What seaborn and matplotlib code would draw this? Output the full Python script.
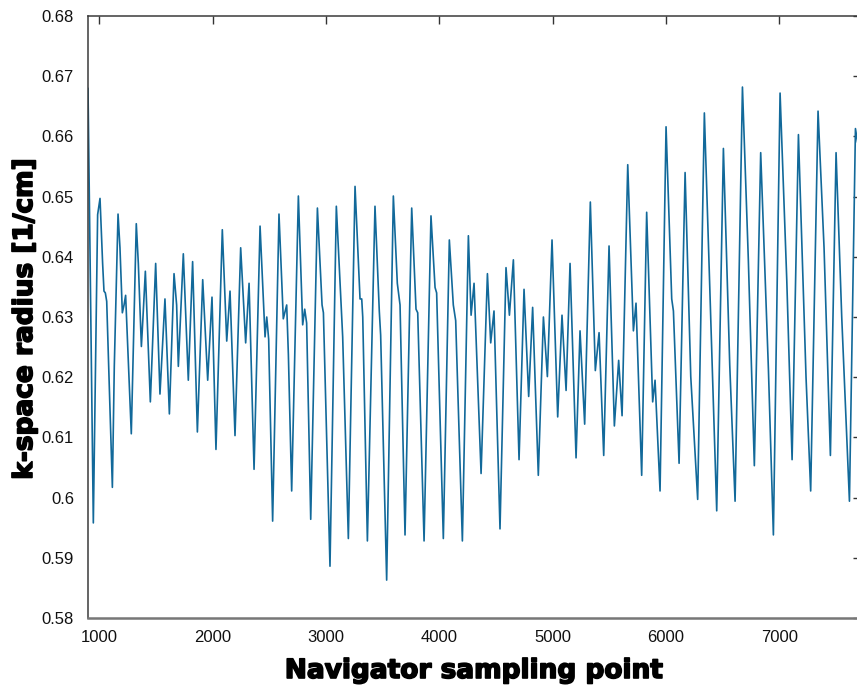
import matplotlib
matplotlib.use("Agg")
import matplotlib.pyplot as plt
import matplotlib.patheffects as pe
from matplotlib.ticker import FuncFormatter
import seaborn as sns
import pandas as pd

# Navigator samples: turning points and shoulders of the k-space radius trace
sample = [
    900, 947, 985, 1006, 1029, 1041, 1053, 1065, 1115, 1132, 1165, 1182, 1203, 1218, 1232,
    1282, 1326, 1344, 1371, 1388, 1406, 1450, 1497, 1535, 1579, 1618, 1659, 1682, 1697,
    1741, 1785, 1823, 1865, 1912, 1956, 1994, 2029, 2085, 2124, 2153, 2197, 2247, 2291,
    2321, 2365, 2418, 2462, 2477, 2494, 2529, 2585, 2623, 2653, 2668, 2697, 2756, 2794,
    2812, 2829, 2865, 2924, 2965, 2977, 3035, 3091, 3147, 3197, 3256, 3300, 3315, 3324,
    3365, 3432, 3470, 3482, 3535, 3594, 3629, 3653, 3697, 3756, 3794, 3809, 3865, 3926,
    3962, 3976, 4035, 4088, 4123, 4144, 4203, 4256, 4280, 4306, 4368, 4424, 4453, 4482,
    4535, 4588, 4618, 4653, 4703, 4747, 4788, 4823, 4873, 4918, 4953, 4994, 5044, 5082,
    5118, 5153, 5206, 5241, 5282, 5332, 5376, 5409, 5450, 5497, 5544, 5582, 5612, 5662,
    5712, 5735, 5785, 5829, 5882, 5903, 5947, 6000, 6050, 6065, 6115, 6168, 6218, 6279,
    6338, 6388, 6447, 6506, 6562, 6609, 6674, 6726, 6779, 6835, 6903, 6947, 7006, 7065,
    7112, 7168, 7235, 7276, 7341, 7394, 7450, 7500, 7550, 7618, 7671, 7690,
]
radius = [
    0.6680, 0.5958, 0.6470, 0.6497, 0.6389, 0.6343, 0.6340, 0.6326, 0.6017, 0.6218, 0.6471,
    0.6415, 0.6307, 0.6320, 0.6336, 0.6106, 0.6455, 0.6389, 0.6251, 0.6310, 0.6376, 0.6159,
    0.6389, 0.6172, 0.6330, 0.6139, 0.6372, 0.6320, 0.6218, 0.6405, 0.6195, 0.6392, 0.6109,
    0.6362, 0.6195, 0.6333, 0.6080, 0.6445, 0.6260, 0.6343, 0.6103, 0.6415, 0.6257, 0.6356,
    0.6047, 0.6451, 0.6267, 0.6300, 0.6263, 0.5961, 0.6471, 0.6297, 0.6320, 0.6237, 0.6011,
    0.6501, 0.6287, 0.6313, 0.6290, 0.5964, 0.6481, 0.6320, 0.6307, 0.5886, 0.6484, 0.6267,
    0.5932, 0.6517, 0.6330, 0.6330, 0.6300, 0.5928, 0.6484, 0.6310, 0.6270, 0.5863, 0.6501,
    0.6356, 0.6320, 0.5938, 0.6481, 0.6313, 0.6307, 0.5928, 0.6468, 0.6349, 0.6340, 0.5932,
    0.6428, 0.6320, 0.6294, 0.5928, 0.6435, 0.6303, 0.6356, 0.6040, 0.6372, 0.6257, 0.6310,
    0.5948, 0.6382, 0.6303, 0.6395, 0.6063, 0.6346, 0.6168, 0.6316, 0.6037, 0.6300, 0.6201,
    0.6428, 0.6134, 0.6303, 0.6178, 0.6389, 0.6066, 0.6277, 0.6122, 0.6491, 0.6211, 0.6274,
    0.6070, 0.6418, 0.6119, 0.6228, 0.6136, 0.6553, 0.6277, 0.6323, 0.6037, 0.6474, 0.6159,
    0.6195, 0.6011, 0.6616, 0.6330, 0.6310, 0.6057, 0.6540, 0.6201, 0.5997, 0.6639, 0.6336,
    0.5978, 0.6580, 0.6220, 0.5994, 0.6682, 0.6395, 0.6053, 0.6573, 0.6214, 0.5938, 0.6672,
    0.6362, 0.6063, 0.6603, 0.6200, 0.6011, 0.6642, 0.6415, 0.6070, 0.6573, 0.6300, 0.5994,
    0.6613, 0.6590,
]
x_ticks = [1000, 2000, 3000, 4000, 5000, 6000, 7000]
y_ticks = [0.58, 0.59, 0.60, 0.61, 0.62, 0.63, 0.64, 0.65, 0.66, 0.67, 0.68]

df = pd.DataFrame({"sample": sample, "radius": radius})

sns.set_style("white")
plt.rcParams["font.family"] = ["Liberation Sans", "DejaVu Sans"]

W, H = 857, 686
fig = plt.figure(figsize=(W / 100, H / 100), dpi=100)
ax = fig.add_axes([88 / W, 1 - 618 / H, (861 - 88) / W, (618 - 16) / H])

sns.lineplot(data=df, x="sample", y="radius", ax=ax, color="#12699a",
             linewidth=1.2, estimator=None, sort=False)

ax.set_xlim(900, 7720)
ax.set_ylim(0.58, 0.68)
ax.set_xticks(x_ticks)
ax.set_yticks(y_ticks)
ax.yaxis.set_major_formatter(FuncFormatter(lambda v, _: f"{v:g}"))
ax.tick_params(direction="in", length=5.5, width=1.0, color="#333333",
               top=True, right=True, labelsize=12, labelcolor="#111111")
ax.tick_params(axis="x", pad=9)
ax.tick_params(axis="y", pad=10)
ax.set_xlabel("")
ax.set_ylabel("")

for side in ("left", "top", "right"):
    ax.spines[side].set_color("#3a3a3a")
    ax.spines[side].set_linewidth(1.1)
ax.spines["bottom"].set_color("#777777")
ax.spines["bottom"].set_linewidth(1.8)

heavy = [pe.withStroke(linewidth=1.2, foreground="black")]
fig.text(474 / W, 1 - 678 / H, "Navigator sampling point", ha="center", va="baseline",
         fontsize=19, fontweight="bold", family="DejaVu Sans", color="black",
         path_effects=heavy)
fig.text(32 / W, 1 - 319 / H, "k-space radius [1/cm]", ha="center", va="baseline",
         rotation=90, rotation_mode="anchor", fontsize=19, fontweight="bold",
         family="DejaVu Sans", color="black", path_effects=heavy)

fig.savefig("out.png", dpi=100)
